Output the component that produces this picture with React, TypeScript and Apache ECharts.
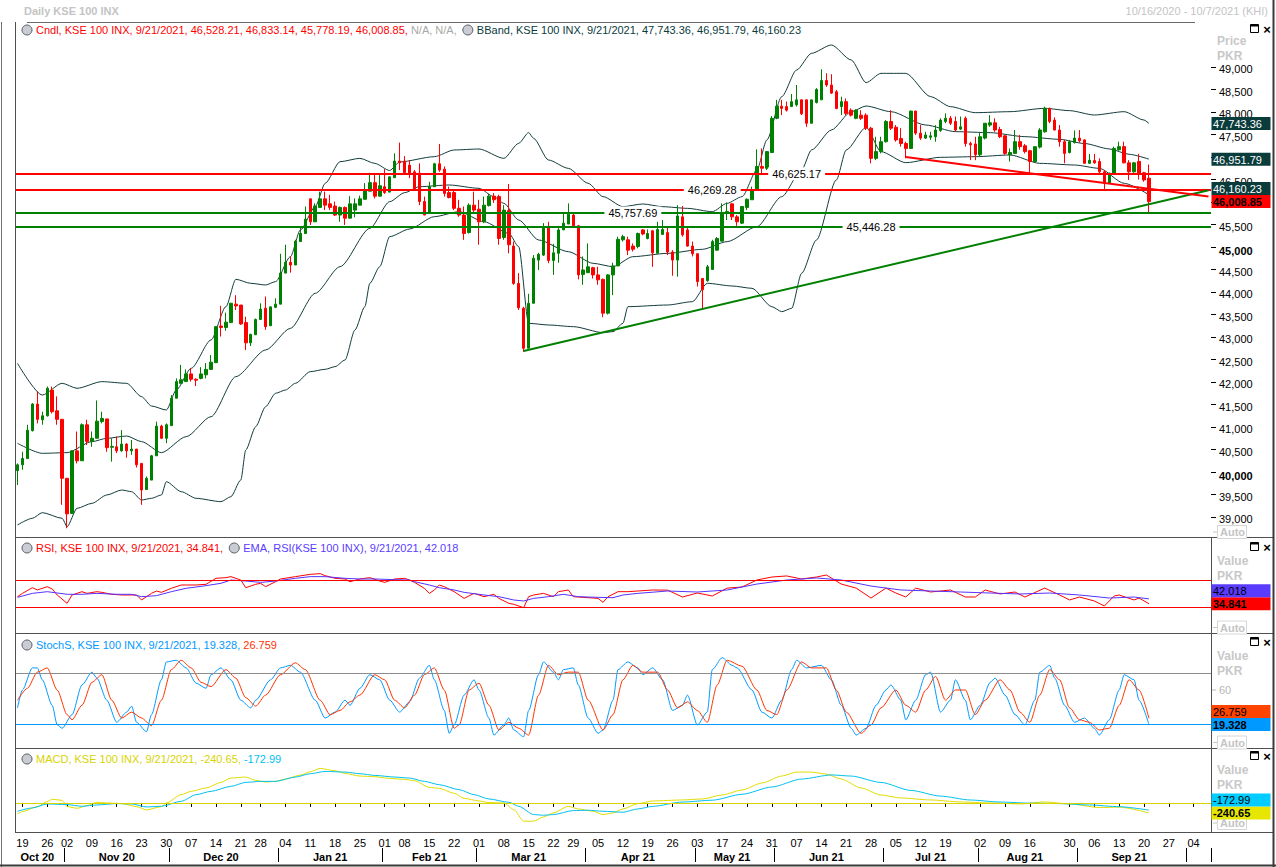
import React, { useEffect, useRef } from "react";
import * as echarts from "echarts";

// ---------------- data ----------------
const FIRST_DAY = "2020-10-16";
const LAST_DAY = "2021-10-07";
const HOLIDAYS = [
  "2020-10-30", "2020-12-25", "2021-02-05", "2021-03-23",
  "2021-05-10", "2021-05-11", "2021-05-12", "2021-05-13", "2021-05-14",
  "2021-07-20", "2021-07-21", "2021-07-22", "2021-08-18", "2021-08-19",
];
const MONTHS = ["Jan", "Feb", "Mar", "Apr", "May", "Jun", "Jul", "Aug", "Sep", "Oct", "Nov", "Dec"];

// daily candles: [open, high, low, close]
const candles: number[][] = [
  [40030, 40190, 39710, 40160], [40160, 40450, 40050, 40300], [40300, 41050, 40300, 40930], [40920, 41530, 40900, 41510],
  [41510, 41790, 41080, 41170], [41160, 41340, 41050, 41250], [41250, 41900, 41230, 41860], [41820, 41900, 41300, 41340],
  [41360, 41680, 41050, 41170], [41170, 41170, 39270, 39860], [39860, 39860, 38750, 39070], [39080, 40480, 39080, 40470],
  [40470, 40900, 40190, 40250], [40250, 41080, 40250, 41050], [41050, 41160, 40600, 40680], [40680, 40900, 40560, 40750],
  [40750, 41590, 40750, 41130], [41120, 41340, 41080, 41190], [41180, 41180, 40450, 40540], [40550, 40750, 40230, 40570],
  [40560, 40790, 40420, 40470], [40470, 40930, 40450, 40620], [40620, 40640, 40320, 40470], [40470, 40710, 40380, 40510],
  [40510, 40510, 40100, 40160], [40190, 40190, 39270, 39600], [39610, 39900, 39600, 39860], [39820, 40380, 39820, 40360],
  [40360, 41120, 40360, 41020], [41020, 41050, 40730, 40750], [40750, 41080, 40640, 41050], [41030, 41710, 41030, 41640],
  [41640, 42080, 41640, 42010], [41970, 42380, 41970, 42050], [42010, 42280, 42010, 42180], [42180, 42310, 42010, 42060],
  [42060, 42080, 41910, 42040], [42080, 42330, 42060, 42180], [42160, 42420, 42080, 42280], [42280, 42600, 42270, 42440],
  [42430, 43240, 42430, 43230], [43245, 43690, 43010, 43210], [43210, 43540, 43140, 43330], [43320, 43760, 43320, 43750],
  [43730, 43930, 43600, 43690], [43710, 43710, 43270, 43290], [43320, 43450, 42710, 42870], [42870, 43070, 42800, 43060],
  [43050, 43410, 43050, 43390], [43390, 43750, 43380, 43620], [43640, 43900, 43160, 43230], [43250, 43670, 43250, 43670],
  [43660, 43860, 43640, 43730], [43730, 44850, 43730, 44420], [44420, 45050, 44420, 44660], [44660, 44790, 44430, 44600],
  [44600, 45160, 44600, 45130], [45120, 45450, 45120, 45300], [45300, 45900, 45300, 45620], [46070, 46080, 45490, 45560],
  [45560, 45970, 45560, 45910], [45880, 46230, 45880, 46070], [46070, 46230, 45820, 45930], [45960, 46160, 45820, 45880],
  [45910, 46010, 45690, 45710], [45710, 45900, 45560, 45880], [45880, 45900, 45490, 45640], [45640, 46130, 45640, 45960],
  [45820, 46080, 45660, 45960], [45930, 46140, 45930, 46070], [46060, 46420, 46060, 46250], [46240, 46650, 46240, 46430],
  [46430, 46620, 46080, 46130], [46130, 46620, 46120, 46360], [46340, 46730, 46180, 46210], [46220, 46560, 46220, 46560],
  [46540, 47080, 46540, 46910], [46910, 47320, 46710, 46870], [46910, 47020, 46620, 46650], [46820, 46930, 46530, 46640],
  [46670, 46710, 46270, 46300], [46640, 46860, 45930, 46010], [46010, 46120, 45710, 45710], [45750, 46450, 45750, 46340],
  [46340, 46870, 46340, 46850], [46850, 47290, 46670, 46710], [46730, 46790, 46120, 46190], [46210, 46340, 46080, 46100],
  [46210, 46270, 45820, 45860], [45860, 46050, 45670, 45710], [45710, 45900, 45160, 45300], [45320, 45970, 45300, 45930],
  [45930, 46230, 45750, 45820], [45840, 46050, 45050, 45560], [45560, 46120, 45530, 45930], [45920, 46180, 45900, 46130],
  [46130, 46200, 45980, 46050], [46120, 46160, 45050, 45190], [45210, 45930, 45160, 45820], [45810, 46400, 44860, 45050],
  [45020, 45120, 44160, 44190], [44190, 44420, 43600, 43650], [43640, 43670, 42670, 42750], [42750, 43960, 42750, 43750],
  [43750, 44820, 43750, 44750], [44710, 44870, 44490, 44840], [44820, 45530, 44800, 45420], [45420, 45560, 44640, 44700],
  [44700, 45070, 44380, 44870], [44860, 45420, 44650, 45380], [45380, 45750, 45380, 45530], [45510, 45970, 45510, 45730],
  [45710, 45730, 45450, 45470], [45470, 45490, 44280, 44380], [44390, 44790, 44160, 44490], [44430, 45080, 44420, 44560],
  [44540, 44560, 44300, 44380], [44380, 44560, 44160, 44270], [44280, 44300, 43440, 43530], [43530, 44400, 43500, 44380],
  [44380, 44650, 43930, 44580], [44580, 45230, 44580, 45170], [45160, 45270, 45120, 45230], [45160, 45230, 44820, 44930],
  [45020, 45080, 44900, 44950], [45010, 45320, 44970, 45300], [45380, 45400, 45260, 45290], [45190, 45390, 45170, 45300],
  [45360, 45380, 44560, 44870], [44860, 45560, 44860, 45390], [45280, 45600, 45270, 45390], [45320, 45450, 44820, 44890],
  [44890, 44930, 44360, 44710], [44710, 45930, 44340, 45690], [45670, 45910, 45230, 45270], [45380, 45450, 45010, 45020],
  [45020, 45120, 44790, 44850], [44850, 44860, 44120, 44230], [44300, 44300, 43620, 44050], [44250, 44600, 44230, 44560],
  [44500, 45160, 44500, 45120], [44930, 45220, 44920, 45190], [45130, 45970, 45130, 45760], [45760, 45990, 45600, 45790],
  [45960, 45970, 45600, 45670], [45670, 45710, 45470, 45560], [45530, 45910, 45510, 45900], [45880, 46080, 45820, 46060],
  [46050, 46340, 46050, 46270], [46270, 47170, 46250, 46790], [46790, 47190, 46640, 46750], [46750, 47120, 46710, 47120],
  [47100, 47910, 47100, 47860], [47860, 48270, 47840, 48130], [48130, 48270, 47930, 48080], [48120, 48230, 48010, 48040],
  [48120, 48400, 48120, 48230], [48160, 48600, 48120, 48270], [48270, 48280, 47930, 47960], [48270, 48270, 47670, 47750],
  [47750, 48270, 47750, 48270], [48210, 48530, 48190, 48500], [48270, 48950, 48270, 48700], [48700, 48860, 48560, 48600],
  [48600, 48840, 48400, 48420], [48450, 48490, 48060, 48080], [48120, 48340, 47930, 48230], [48230, 48300, 47930, 47970],
  [48040, 48080, 47900, 47930], [47860, 48060, 47840, 48040], [47930, 48040, 47820, 47860], [47930, 47970, 47600, 47640],
  [47640, 47670, 46860, 46970], [46970, 47450, 46930, 47120], [47120, 47450, 47080, 47340], [47340, 47820, 47320, 47790],
  [47790, 48040, 47600, 47640], [47660, 47710, 47340, 47380], [47410, 47640, 47230, 47300], [47300, 47340, 46970, 47190],
  [47190, 48030, 47190, 48020], [48020, 48030, 47490, 47530], [47530, 47710, 47380, 47420], [47420, 47560, 47400, 47490],
  [47440, 47560, 47380, 47470], [47450, 47710, 47340, 47600], [47590, 47860, 47560, 47820], [47790, 47970, 47750, 47860],
  [47860, 47910, 47710, 47750], [47790, 47900, 47560, 47600], [47620, 47900, 47600, 47670], [47860, 47900, 47230, 47300],
  [47300, 47340, 46930, 47270], [47290, 47450, 46930, 47050], [47050, 47530, 47000, 47450], [47420, 47750, 47390, 47750],
  [47710, 47930, 47670, 47760], [47760, 47860, 47560, 47600], [47610, 47670, 47420, 47450], [47470, 47490, 47050, 47080],
  [47050, 47190, 46900, 47100], [47080, 47600, 47080, 47340], [47340, 47490, 47160, 47230], [47250, 47290, 47080, 47120],
  [47140, 47160, 46640, 46900], [46900, 47230, 46870, 47230], [47220, 47640, 47190, 47600], [47560, 48120, 47540, 48080],
  [48080, 48100, 47750, 47790], [47820, 47880, 47590, 47600], [47600, 47710, 47230, 47340], [47340, 47380, 46860, 47080],
  [47100, 47380, 47080, 47340], [47320, 47590, 47300, 47420], [47420, 47600, 47320, 47360], [47380, 47390, 46850, 46860],
  [46860, 47070, 46850, 46930], [46920, 47070, 46850, 46870], [46900, 46970, 46640, 46670], [46670, 46710, 46270, 46420],
  [46420, 46650, 46400, 46640], [46640, 47230, 46620, 47190], [47160, 47340, 47140, 47230], [47230, 47340, 46860, 46870],
  [46870, 46930, 46490, 46670], [46670, 46890, 46650, 46870], [46900, 47070, 46500, 46640], [46650, 46670, 46450, 46490],
  [46528.21, 46833.14, 45778.19, 46008.85],
];

// Bollinger bands, read at [day index, value]
const bbUpper: number[][] = [
  [0, 42415], [5, 41711], [9, 41971], [12, 41860], [17, 42008], [22, 41971], [25, 41674], [27, 41467], [30, 41378],
  [32, 41822], [35, 42304], [39, 42934], [42, 43674], [44, 44282], [47, 44193], [50, 44156], [52, 44230], [55, 44785],
  [57, 45378], [60, 45896], [62, 46415], [65, 46896], [69, 46970], [72, 46859], [75, 46700], [77, 46890], [84, 47007],
  [88, 47156], [93, 47178], [98, 46970], [101, 47304], [103, 47541], [104, 47415], [107, 46933], [111, 46748],
  [115, 46415], [118, 46119], [122, 45896], [126, 45956], [130, 45896], [135, 45859], [140, 45785], [143, 45971],
  [146, 46119], [149, 46711], [151, 47378], [154, 48341], [157, 48933], [160, 49304], [164, 49489], [168, 49156],
  [171, 48652], [174, 48859], [179, 48859], [184, 48341], [188, 48119], [193, 47985], [200, 48007], [207, 48082],
  [212, 48030], [217, 47933], [223, 48007], [227, 47822], [228, 47743.36],
];
const bbMid: number[][] = [
  [0, 40637], [5, 40415], [10, 40430], [15, 40675], [18, 40748], [22, 40800], [25, 40675], [29, 40430], [34, 40786],
  [39, 41230], [44, 42119], [50, 42711], [55, 43193], [60, 43971], [65, 44563], [71, 45415], [75, 46007], [78, 46207],
  [81, 46341], [87, 46378], [93, 46304], [96, 46119], [98, 45971], [101, 45600], [105, 45156], [111, 44896],
  [116, 44637], [120, 44563], [124, 44785], [131, 44859], [138, 44948], [143, 45119], [149, 45452], [154, 46119],
  [158, 46711], [160, 47156], [164, 47600], [168, 48007], [171, 48133], [176, 48007], [183, 47711], [189, 47563],
  [196, 47541], [203, 47452], [210, 47393], [215, 47300], [220, 47180], [224, 47060], [228, 46951.79],
];
const bbLower: number[][] = [
  [0, 38823], [3, 38971], [5, 39097], [9, 38971], [10, 38786], [12, 39193], [15, 39304], [18, 39489], [21, 39600],
  [23, 39563], [25, 39378], [27, 39415], [29, 39489], [30, 39785], [33, 39563], [36, 39415], [41, 39341], [43, 39452],
  [45, 39822], [46, 40489], [48, 41008], [50, 41452], [52, 41749], [54, 41822], [56, 41971], [59, 42230], [62, 42282],
  [64, 42341], [66, 42489], [68, 43156], [70, 43674], [71, 44193], [73, 44563], [75, 45230], [79, 45400], [84, 45674],
  [89, 45785], [94, 45563], [99, 45304], [101, 45008], [103, 43304], [107, 43267], [112, 43230], [118, 43097],
  [120, 43119], [122, 43304], [123, 43674], [131, 43711], [136, 43785], [139, 44193], [144, 44134], [148, 44082],
  [152, 43674], [154, 43563], [156, 43637], [158, 44415], [161, 45156], [165, 46489], [167, 47156], [171, 47659],
  [174, 47119], [179, 46874], [186, 46993], [193, 47007], [200, 47045], [206, 46859], [213, 46822], [218, 46748],
  [223, 46415], [228, 46160.23],
];

const rsi: number[][] = [
  [0, 45.3], [1, 50.2], [3, 58.6], [4, 55.2], [6, 60.1], [7, 56.7], [8, 47.8], [10, 35.4], [11, 47.8], [13, 52.7],
  [14, 50.2], [16, 52.7], [17, 51.7], [19, 48.8], [21, 47.8], [24, 47.8], [25, 40.4], [27, 50.2], [28, 53.7], [29, 51.7],
  [31, 57.7], [33, 62.6], [34, 62.6], [36, 62.6], [38, 63.6], [40, 72.5], [42, 73.5], [43, 75], [45, 70], [46, 58.6],
  [48, 63.6], [49, 65.1], [50, 60.1], [52, 67.5], [53, 71.5], [56, 75], [59, 78.4], [61, 79.4], [62, 76.4], [64, 72.5],
  [66, 71.5], [67, 67.5], [69, 71.5], [71, 73.5], [73, 68.5], [74, 66.5], [76, 71.5], [78, 72.5], [79, 70], [80, 66.5],
  [82, 57.7], [83, 50.2], [84, 55.2], [85, 62.6], [86, 60.1], [88, 52.7], [90, 42.8], [92, 50.2], [93, 47.8], [94, 45.3],
  [96, 48.8], [97, 42.8], [99, 35.4], [100, 34], [102, 29], [103, 45.3], [104, 47.8], [106, 50.2], [108, 45.3],
  [109, 52.7], [111, 55.2], [112, 45.3], [115, 43.8], [117, 42.8], [118, 36.9], [119, 45.3], [121, 52.7], [123, 52.7],
  [125, 53.7], [128, 55.2], [131, 55], [134, 44.8], [137, 50.7], [140, 46.3], [143, 58], [146, 59.6], [149, 70],
  [152, 74.4], [155, 76], [158, 71.5], [161, 74.4], [163, 77.4], [166, 64], [169, 58], [172, 43.3], [175, 58],
  [177, 50.7], [179, 44.8], [181, 58], [184, 52.2], [188, 55.2], [191, 44.8], [193, 44.8], [195, 55.2], [198, 49.3],
  [201, 52.2], [203, 44.8], [207, 58], [210, 47.8], [212, 40.4], [214, 44.8], [217, 38.9], [219, 31.5], [221, 46.3],
  [222, 47.8], [225, 40.4], [226, 43.3], [228, 34.841],
];
const rsiEma: number[][] = [
  [0, 44.3], [3, 50.2], [6, 52.7], [10, 48.8], [13, 48.8], [16, 50.2], [20, 48.8], [23, 48.8], [25, 45.3], [28, 46.8],
  [31, 52.7], [34, 57.7], [38, 61.6], [41, 65.1], [43, 70], [46, 68.5], [49, 66.5], [52, 68.5], [56, 72.5], [59, 75],
  [62, 75], [66, 72.5], [69, 71.5], [72, 71.5], [76, 70.5], [79, 70], [80, 67.5], [83, 62.6], [85, 58.6], [88, 55.2],
  [90, 51.7], [94, 47.8], [97, 45.3], [100, 40.4], [102, 38.9], [104, 42.8], [107, 45.3], [110, 48.8], [113, 45.3],
  [117, 44.3], [120, 43.8], [122, 47.8], [125, 50.2], [131, 53.7], [137, 52.2], [143, 55.2], [149, 64], [155, 70],
  [161, 73], [166, 70], [172, 61], [178, 55.2], [184, 53.7], [190, 52.2], [196, 50.7], [202, 49.3], [208, 50.7],
  [214, 47.8], [220, 43.3], [225, 44.8], [228, 42.018],
];

const stochK: number[][] = [
  [0, 39], [1, 60], [3, 86], [4, 86], [5, 72], [7, 42], [8, 19], [9, 15], [11, 31], [13, 66], [15, 81], [16, 74],
  [18, 48], [20, 22], [22, 34], [23, 41], [24, 22], [26, 11], [27, 31], [29, 72], [30, 93], [32, 95], [34, 86],
  [36, 68], [38, 62], [39, 78], [41, 86], [43, 72], [45, 48], [47, 39], [48, 48], [51, 72], [53, 86], [55, 89],
  [57, 81], [60, 48], [62, 27], [64, 34], [66, 48], [67, 42], [69, 62], [71, 78], [73, 72], [75, 48], [77, 34],
  [79, 46], [81, 74], [83, 89], [84, 72], [86, 36], [87, 9], [88, 19], [90, 54], [92, 72], [93, 60], [95, 27],
  [96, 7], [98, 19], [99, 27], [100, 13], [102, 5], [103, 36], [105, 78], [106, 93], [108, 81], [109, 72], [110, 84],
  [112, 86], [113, 66], [115, 27], [117, 9], [118, 13], [120, 48], [121, 84], [123, 93], [125, 86], [126, 78],
  [128, 86], [130, 72], [132, 36], [134, 42], [135, 54], [137, 19], [139, 34], [140, 84], [142, 98], [144, 89],
  [145, 86], [148, 60], [150, 34], [152, 27], [154, 48], [156, 84], [157, 95], [159, 86], [162, 89], [164, 72],
  [166, 42], [168, 15], [169, 7], [171, 15], [173, 42], [175, 60], [176, 66], [178, 48], [179, 25], [181, 48],
  [183, 78], [184, 81], [186, 34], [188, 48], [189, 72], [191, 48], [192, 25], [194, 42], [196, 69], [197, 74],
  [199, 54], [201, 31], [203, 19], [205, 48], [206, 81], [208, 89], [209, 74], [211, 42], [213, 22], [215, 27],
  [217, 15], [218, 7], [220, 25], [222, 60], [223, 78], [225, 72], [226, 48], [228, 19.328],
];
const stochD: number[][] = [
  [0, 48], [2, 62], [4, 81], [6, 86], [8, 60], [10, 31], [11, 25], [13, 42], [15, 69], [17, 78], [19, 48], [21, 27],
  [23, 34], [25, 27], [27, 18], [29, 48], [31, 84], [33, 95], [35, 86], [37, 69], [39, 64], [42, 84], [44, 74],
  [46, 51], [48, 41], [50, 54], [53, 78], [56, 92], [58, 84], [61, 48], [63, 31], [65, 36], [67, 46], [69, 54],
  [72, 78], [74, 72], [76, 48], [78, 39], [80, 54], [82, 78], [84, 86], [86, 60], [88, 15], [89, 19], [91, 60],
  [93, 68], [95, 42], [97, 13], [99, 22], [101, 15], [103, 7], [105, 54], [107, 89], [109, 78], [111, 81], [113, 81],
  [115, 48], [118, 13], [120, 31], [122, 72], [124, 89], [126, 81], [129, 81], [131, 60], [133, 39], [135, 46],
  [137, 36], [139, 22], [141, 66], [143, 95], [146, 88], [149, 60], [151, 36], [153, 31], [155, 60], [158, 93],
  [160, 86], [163, 86], [165, 60], [167, 34], [170, 9], [172, 19], [174, 39], [177, 60], [179, 42], [181, 34],
  [183, 60], [185, 76], [187, 48], [189, 60], [191, 60], [193, 31], [195, 48], [198, 72], [200, 60], [202, 34],
  [204, 22], [206, 54], [208, 84], [210, 72], [212, 39], [214, 25], [216, 22], [218, 13], [220, 15], [222, 42],
  [224, 72], [226, 60], [228, 26.759],
];

const macd: number[][] = [
  [0, -264], [1, -208], [4, -88], [6, 32], [7, 88], [9, 64], [10, -88], [12, -128], [14, -64], [16, 16], [18, 0],
  [21, -16], [24, -88], [26, -168], [29, -88], [30, 0], [33, 200], [35, 280], [38, 360], [41, 496], [43, 600],
  [46, 624], [48, 544], [50, 504], [52, 520], [54, 576], [57, 671], [59, 752], [61, 832], [64, 776], [66, 712],
  [69, 648], [72, 632], [75, 592], [78, 568], [80, 536], [83, 376], [85, 352], [88, 232], [90, 112], [93, 48],
  [95, 8], [98, 0], [100, -160], [102, -440], [104, -440], [106, -336], [108, -240], [111, -80], [113, -144],
  [116, -200], [118, -280], [120, -240], [122, -144], [125, -16], [128, 48], [134, 72], [138, 96], [142, 192],
  [146, 312], [150, 480], [154, 648], [157, 744], [160, 744], [163, 696], [166, 576], [170, 360], [174, 192],
  [178, 120], [184, 72], [190, 24], [196, 0], [202, -24], [207, 24], [212, -24], [218, -110], [222, -100], [228, -240.65],
];
const macdSignal: number[][] = [
  [0, -200], [3, -120], [6, -24], [10, -40], [13, -80], [16, -48], [20, -16], [23, -24], [26, -96], [29, -80],
  [33, 40], [36, 200], [39, 280], [43, 400], [46, 496], [49, 520], [52, 520], [56, 624], [59, 704], [62, 760],
  [66, 744], [69, 704], [72, 664], [76, 624], [79, 600], [82, 520], [85, 440], [89, 320], [92, 200], [95, 96],
  [99, 16], [101, -80], [104, -280], [106, -296], [108, -280], [112, -184], [115, -176], [118, -200], [122, -224],
  [125, -144], [128, -82], [134, 22], [140, 66], [146, 209], [152, 384], [158, 576], [164, 675], [168, 648],
  [174, 494], [180, 302], [186, 165], [192, 71], [198, 22], [204, -5], [210, -16], [216, -49], [222, -90],
  [228, -172.99],
];

const redLevels = [46625.17, 46269.28];
const greenLevels = [45757.69, 45446.28];
const greenTrend = [[102, 42690], [240, 46260]];
const redTrend = [[179, 47000], [240, 46120]];

// ---------------- helpers ----------------
const FONT = "'Liberation Sans', Arial, sans-serif";
const iso = (d: Date) => d.toISOString().slice(0, 10);
function buildDates() {
  const out: string[] = [];
  const d = new Date(FIRST_DAY + "T00:00:00Z");
  const end = new Date(LAST_DAY + "T00:00:00Z");
  while (d <= end) {
    const wd = d.getUTCDay();
    const s = iso(d);
    if (wd !== 0 && wd !== 6 && HOLIDAYS.indexOf(s) < 0) out.push(s);
    d.setUTCDate(d.getUTCDate() + 1);
  }
  return out;
}
const dow = (s: string) => new Date(s + "T00:00:00Z").getUTCDay();
const fmtNum = (v: number) => String(v).replace(/\B(?=(\d{3})+(?!\d))/g, ",");

let measureCtx: CanvasRenderingContext2D | null = null;
function textWidth(s: string, size = 11, weight = "normal") {
  if (!measureCtx) measureCtx = document.createElement("canvas").getContext("2d");
  measureCtx!.font = `${weight} ${size}px ${FONT}`;
  return measureCtx!.measureText(s).width;
}

function T(x: number, y: number, text: string, color: string, size = 11, weight = "normal", align = "left") {
  return {
    type: "text", x, y, silent: true, z: 100,
    style: { text, fill: color, fontSize: size, fontWeight: weight, fontFamily: FONT, textAlign: align, textVerticalAlign: "middle", align, verticalAlign: "middle" },
  };
}
function L(x1: number, y1: number, x2: number, y2: number, color: string, w = 1) {
  return { type: "line", silent: true, z: 90, shape: { x1, y1, x2, y2 }, style: { stroke: color, lineWidth: w } };
}
function R(x: number, y: number, w: number, h: number, fill: string, stroke?: string) {
  return { type: "rect", silent: true, z: 95, shape: { x, y, width: w, height: h }, style: { fill, stroke: stroke || null, lineWidth: 1 } };
}
function clock(cx: number, cy: number) {
  return [
    { type: "circle", silent: true, z: 100, shape: { cx, cy, r: 5 }, style: { fill: "#c9ccd2", stroke: "#555b63", lineWidth: 1 } },
    L(cx, cy, cx, cy - 3.5, "#222"), L(cx, cy, cx + 2.8, cy, "#222"),
  ];
}
function legend(x0: number, y: number, parts: { t: string; c: string; clock?: boolean }[]) {
  const out: any[] = [];
  let x = x0;
  for (const p of parts) {
    if (p.clock) { out.push(...clock(x + 5, y)); x += 14; }
    out.push(T(x, y, p.t, p.c));
    x += textWidth(p.t);
  }
  return out;
}
function icons(y: number) {
  return [
    R(1250.5, y - 4.5, 8, 8, "none", "#000"), L(1250.5, y - 3.5, 1258.5, y - 3.5, "#000", 2),
    T(1267, y, "×", "#000", 13, "bold", "center"),
  ];
}
function autoBox(y: number) {
  return [L(1213, y, 1217, y, "#c8c8c8"), R(1217.5, y - 6.5, 29, 13, "#fff", "#d6d6d6"), T(1220, y, "Auto", "#c4c4c4", 11, "bold")];
}

export default function App() {
  const ref = useRef<HTMLDivElement>(null);
  useEffect(() => {
    const dates = buildDates();
    const N = dates.length;

    const dayLabels = new Set<number>();
    let last = -100;
    for (let i = 1; i < N; i++) {
      if (dow(dates[i]) <= dow(dates[i - 1]) && i - last >= 4) { dayLabels.add(i); last = i; }
    }
    const monthStarts = new Set<number>();
    const monthMids = new Set<number>();
    let segStart = 0;
    for (let i = 1; i <= N; i++) {
      if (i === N || dates[i].slice(0, 7) !== dates[i - 1].slice(0, 7)) {
        if (i - segStart >= 8) monthMids.add(Math.floor((segStart + i - 1) / 2));
        if (i < N) monthStarts.add(i);
        segStart = i;
      }
    }

    const grids = [
      { left: 15, width: 1196, top: 44.5, height: 495 },
      { left: 15, width: 1196, top: 539.5, height: 94.5 },
      { left: 15, width: 1196, top: 634.75, height: 114.75 },
      { left: 15, width: 1196, top: 749, height: 83 },
    ];
    const hiddenX = (g: number) => ({ type: "category", gridIndex: g, data: dates, boundaryGap: true, show: false });
    const hiddenY = (g: number, min: number, max: number) => ({ type: "value", gridIndex: g, min, max, show: false, splitLine: { show: false } });

    const priceTicks: number[] = [];
    for (let v = 39000; v <= 49000; v += 500) priceTicks.push(v);
    // labels hidden under the value badges (as on the reference)
    const priceLabels = priceTicks.filter((v) => v !== 47000 && v !== 46000);

    const lineS = (data: number[][], color: string, g: number, extra: any = {}) => ({
      type: "line", xAxisIndex: g, yAxisIndex: g, data, showSymbol: false, symbol: "none",
      lineStyle: { color, width: 1 }, silent: true, z: 3, ...extra,
    });
    const hMark = (vals: { v: number; c: string }[]) => ({
      silent: true, symbol: ["none", "none"], label: { show: false },
      data: vals.map((o) => ({ yAxis: o.v, lineStyle: { color: o.c, width: 1, type: "solid" } })),
    });
    const smooth = { smooth: 0.25, smoothMonotone: "x" };

    const option: any = {
      animation: false,
      backgroundColor: "#ffffff",
      textStyle: { fontFamily: FONT },
      grid: grids,
      xAxis: [
        hiddenX(0), hiddenX(1), hiddenX(2),
        {
          type: "category", gridIndex: 3, data: dates, boundaryGap: true, position: "bottom",
          axisLine: { show: false },
          axisTick: { show: true, alignWithLabel: true, length: 4, interval: (i: number) => dayLabels.has(i), lineStyle: { color: "#000" } },
          axisLabel: { interval: (i: number) => dayLabels.has(i), formatter: (v: string) => v.slice(8, 10), color: "#000", fontSize: 11, fontFamily: FONT, margin: 5 },
        },
        {
          type: "category", gridIndex: 3, data: dates, boundaryGap: true, position: "bottom", offset: 16,
          axisLine: { show: false },
          axisTick: { show: true, length: 14, interval: (i: number) => monthStarts.has(i), lineStyle: { color: "#000" } },
          axisLabel: {
            interval: (i: number) => monthMids.has(i),
            formatter: (v: string) => `${MONTHS[+v.slice(5, 7) - 1]} ${v.slice(2, 4)}`,
            color: "#000", fontSize: 11, fontWeight: "bold", fontFamily: FONT, margin: 3,
          },
        },
      ],
      yAxis: [
        {
          type: "value", gridIndex: 0, position: "right", min: 38500, max: 49500, interval: 500,
          axisLine: { show: false }, splitLine: { show: false },
          axisTick: { show: true, length: 5, customValues: priceTicks, lineStyle: { color: "#000" } },
          axisLabel: {
            customValues: priceLabels, margin: 8, color: "#000", fontSize: 11, fontFamily: FONT, padding: [4, 0, 0, 0],
            formatter: (v: number) => (v % 5000 === 0 ? `{b|${fmtNum(v)}}` : fmtNum(v)),
            rich: { b: { fontWeight: "bold", fontSize: 11, color: "#000", fontFamily: FONT, padding: [4, 0, 0, 0] } },
          },
        },
        hiddenY(1, -10, 130),
        hiddenY(2, -10, 125),
        hiddenY(3, -700, 1300),
      ],
      series: [
        {
          type: "candlestick", xAxisIndex: 0, yAxisIndex: 0, barWidth: 3, silent: true, z: 4,
          data: candles.map(([o, h, l, c]) => [o, c, l, h]),
          itemStyle: { color: "#008000", color0: "#ff0000", borderColor: "#008000", borderColor0: "#ff0000", borderWidth: 1 },
          markLine: {
            silent: true, symbol: ["none", "none"], label: { show: false }, z: 6,
            data: [
              ...redLevels.map((v) => ({ yAxis: v, lineStyle: { color: "#ff0000", width: 2, type: "solid" } })),
              ...greenLevels.map((v) => ({ yAxis: v, lineStyle: { color: "#008000", width: 2, type: "solid" } })),
              [{ coord: greenTrend[0], lineStyle: { color: "#008000", width: 2, type: "solid" } }, { coord: greenTrend[1] }],
              [{ coord: redTrend[0], lineStyle: { color: "#ff0000", width: 2, type: "solid" } }, { coord: redTrend[1] }],
            ],
          },
          markPoint: {
            silent: true, symbol: "rect", symbolSize: 1, itemStyle: { color: "rgba(0,0,0,0)" }, z: 7,
            label: {
              show: true, position: "inside", formatter: (p: any) => p.name, color: "#000", fontSize: 11, fontFamily: FONT,
              backgroundColor: "#fff", padding: [1, 4],
            },
            data: [
              { name: fmtNum(redLevels[0]), coord: [157, redLevels[0]] },
              { name: fmtNum(redLevels[1]), coord: [140, redLevels[1]] },
              { name: fmtNum(greenLevels[0]), coord: [124, greenLevels[0]] },
              { name: fmtNum(greenLevels[1]), coord: [172, greenLevels[1]] },
            ],
          },
        },
        lineS(bbUpper, "#123c3c", 0, smooth),
        lineS(bbMid, "#123c3c", 0, smooth),
        lineS(bbLower, "#123c3c", 0, smooth),
        lineS(rsi, "#ff0000", 1, { markLine: hMark([{ v: 70, c: "#ff0000" }, { v: 30, c: "#ff0000" }]) }),
        lineS(rsiEma, "#5533ff", 1),
        lineS(stochK, "#0099ff", 2, { ...smooth, markLine: hMark([{ v: 80, c: "#8c8c8c" }, { v: 20, c: "#0099ff" }]) }),
        lineS(stochD, "#ff3300", 2, smooth),
        lineS(macd, "#e0dc00", 3, { ...smooth, markLine: hMark([{ v: 0, c: "#d8d400" }]) }),
        lineS(macdSignal, "#00c0f0", 3, smooth),
      ],
    };

    const chart = echarts.init(ref.current!, undefined, { renderer: "svg", width: 1276, height: 867 });
    chart.setOption(option);

    // ---- badges on the right axes, placed through the axes' own scales ----
    const badges: any[] = [];
    const place = (axis: number, items: { v: number; label: string; bg: string; fg: string; bold?: boolean }[]) => {
      const ys = items.map((it) => ({ it, y: chart.convertToPixel({ yAxisIndex: axis } as any, it.v) as number }));
      ys.sort((a, b) => b.y - a.y);
      for (let i = 1; i < ys.length; i++) if (ys[i - 1].y - ys[i].y < 13) ys[i].y = ys[i - 1].y - 13;
      for (const { it, y } of ys) {
        badges.push(R(1211.5, y - 6.5, 59, 13, it.bg));
        badges.push({ ...T(1213, y + 0.5, it.label, it.fg, 11, it.bold ? "bold" : "normal"), z: 101 });
      }
    };
    const teal = "#0b3c3c";
    place(0, [
      { v: bbUpper[bbUpper.length - 1][1], label: "47,743.36", bg: teal, fg: "#fff" },
      { v: bbMid[bbMid.length - 1][1], label: "46,951.79", bg: teal, fg: "#fff" },
      { v: bbLower[bbLower.length - 1][1], label: "46,160.23", bg: teal, fg: "#fff" },
      { v: candles[candles.length - 1][3], label: "46,008.85", bg: "#ff0000", fg: "#000", bold: true },
    ]);
    place(1, [
      { v: rsiEma[rsiEma.length - 1][1], label: "42.018", bg: "#5a3cff", fg: "#000" },
      { v: rsi[rsi.length - 1][1], label: "34.841", bg: "#ff0000", fg: "#000", bold: true },
    ]);
    place(2, [
      { v: stochD[stochD.length - 1][1], label: "26.759", bg: "#ff4400", fg: "#000" },
      { v: stochK[stochK.length - 1][1], label: "19.328", bg: "#0099ff", fg: "#000", bold: true },
    ]);
    place(3, [
      { v: macdSignal[macdSignal.length - 1][1], label: "-172.99", bg: "#00ccff", fg: "#000" },
      { v: macd[macd.length - 1][1], label: "-240.65", bg: "#e6e600", fg: "#000", bold: true },
    ]);
    const y60 = chart.convertToPixel({ yAxisIndex: 2 } as any, 60) as number;

    const red = "#ff0000";
    const graphics: any[] = [
      T(24, 11, "Daily KSE 100 INX", "#c4c4c4", 11, "bold"),
      T(1268, 11, "10/16/2020 - 10/7/2021 (KHI)", "#c4c4c4", 11, "normal", "right"),
      L(27, 22.5, 1195, 22.5, "#6a6a6a"),
      // frames
      L(1.5, 22, 1.5, 867, "#707070"),
      L(15.5, 22, 15.5, 832, "#505050"),
      L(15, 537.5, 1273, 537.5, "#505050"),
      L(15, 633.5, 1273, 633.5, "#505050"),
      L(15, 748.5, 1273, 748.5, "#505050"),
      L(15, 832.5, 1273, 832.5, "#505050"),
      L(1211.5, 537, 1211.5, 833, "#505050"),
      L(1273.5, 0, 1273.5, 867, "#3a3a3a", 2),
      L(0, 865.5, 1276, 865.5, "#3a3a3a", 2),
      // legends
      ...legend(22, 30, [
        { clock: true, t: "Cndl, KSE 100 INX, 9/21/2021, 46,528.21, 46,833.14, 45,778.19, 46,008.85,", c: red },
        { t: " N/A, N/A,", c: "#a8a8a8" },
        { t: "  ", c: "#000" },
        { clock: true, t: "BBand, KSE 100 INX, 9/21/2021, 47,743.36, 46,951.79, 46,160.23", c: "#0b3c3c" },
      ]),
      ...legend(22, 548, [
        { clock: true, t: "RSI, KSE 100 INX, 9/21/2021, 34.841,", c: red },
        { t: "  ", c: "#000" },
        { clock: true, t: "EMA, RSI(KSE 100 INX), 9/21/2021, 42.018", c: "#5a3cff" },
      ]),
      ...legend(22, 645, [
        { clock: true, t: "StochS, KSE 100 INX, 9/21/2021, 19.328,", c: "#0099ff" },
        { t: " 26.759", c: "#ff3300" },
      ]),
      ...legend(22, 759, [
        { clock: true, t: "MACD, KSE 100 INX, 9/21/2021, -240.65,", c: "#d8d400" },
        { t: " -172.99", c: "#00bff0" },
      ]),
      // right axis captions
      T(1217, 41, "Price", "#c8c8c8", 12, "bold"), T(1217, 56, "PKR", "#c8c8c8", 12, "bold"),
      T(1217, 561, "Value", "#c8c8c8", 12, "bold"), T(1217, 576, "PKR", "#c8c8c8", 12, "bold"),
      T(1217, 656, "Value", "#c8c8c8", 12, "bold"), T(1217, 671, "PKR", "#c8c8c8", 12, "bold"),
      T(1217, 770, "Value", "#c8c8c8", 12, "bold"), T(1217, 785, "PKR", "#c8c8c8", 12, "bold"),
      L(1212, y60, 1216, y60, "#b8b8b8"), T(1219, y60, "60", "#b8b8b8", 11),
      ...autoBox(532), ...autoBox(627.5), ...autoBox(742.5), ...autoBox(823),
      ...icons(29), ...icons(547), ...icons(642), ...icons(756),
      ...badges,
    ];
    chart.setOption({ graphic: { elements: graphics } });

    return () => chart.dispose();
  }, []);
  return <div ref={ref} style={{ position: "fixed", left: 0, top: 0, width: 1276, height: 867, background: "#fff" }} />;
}
